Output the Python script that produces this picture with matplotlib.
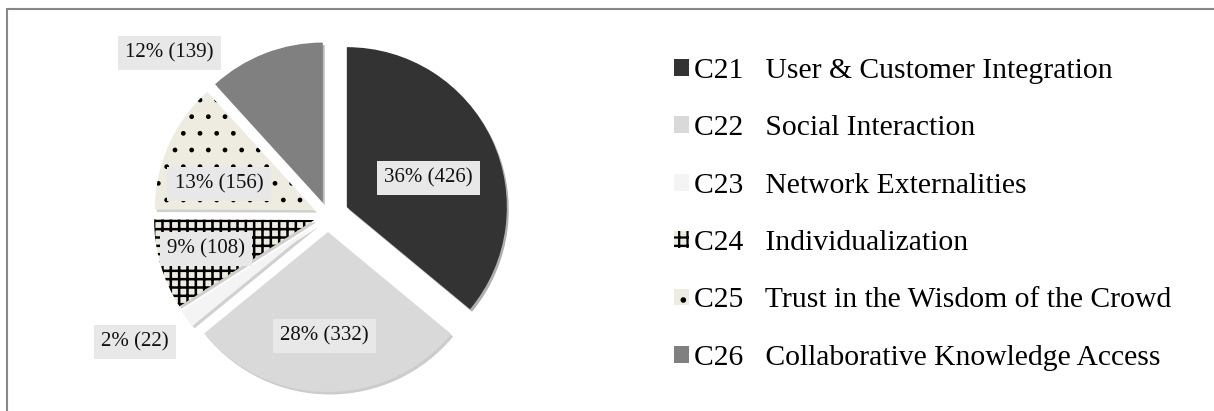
import numpy as np
import matplotlib
matplotlib.use("Agg")
import matplotlib.pyplot as plt
from matplotlib.patches import Rectangle

plt.rcParams['font.family'] = ['Liberation Serif', 'DejaVu Serif']
plt.rcParams['hatch.linewidth'] = 1.6

# Category counts
codes = ["C21", "C22", "C23", "C24", "C25", "C26"]
names = ["User & Customer Integration", "Social Interaction", "Network Externalities",
         "Individualization", "Trust in the Wisdom of the Crowd",
         "Collaborative Knowledge Access"]
counts = [426, 332, 22, 108, 156, 139]

# Styling per slice
colors = ["#333333", "#d9d9d9", "#f4f4f4", "#eeece1", "#eeece1", "#808080"]
hatches = [None, None, None, "++", ".", None]
hatch_lw = [None, None, None, 1.8, 1.0, None]
explode = [0.13, 0.10, 0.09, 0.09, 0.09, 0.09]   # fraction of the radius

# Label placement: distance (in radii) and angle shift from the slice middle
label_dist = [0.54, 0.65, 1.35, 0.70, 0.62, 1.34]
label_shift = [-5.5, -1.6, -3.0, -1.4, 8.8, 24.5]

W, H = 1214, 411
fig = plt.figure(figsize=(W / 100, H / 100), dpi=100)
ax = fig.add_axes([0, 0, 1, 1])

R = 160
center = (328, H - 216)
wedges, _ = ax.pie(counts, colors=colors, explode=[e * R for e in explode],
                   startangle=90, counterclock=False, radius=R, center=center,
                   wedgeprops=dict(linewidth=0, edgecolor="black"),
                   shadow=dict(ox=1.4, oy=-1.8, shade=0.5, alpha=0.35))
for w, h, lw in zip(wedges, hatches, hatch_lw):
    if h:
        w.set_hatch(h)
        if hasattr(w, "set_hatch_linewidth"):
            w.set_hatch_linewidth(lw)

ax.set_xlim(0, W)
ax.set_ylim(0, H)
ax.set_aspect("equal")
ax.axis("off")

# Data labels: percentage and count
total = sum(counts)
for w, n, d, s in zip(wedges, counts, label_dist, label_shift):
    mid = np.deg2rad((w.theta1 + w.theta2) / 2 + s)
    x = w.center[0] + d * w.r * np.cos(mid)
    y = w.center[1] + d * w.r * np.sin(mid)
    ax.text(x, y, f"{100 * n / total:.0f}% ({n})", ha="center", va="center",
            fontsize=15, color="#111111",
            bbox=dict(boxstyle="square,pad=0.35", facecolor="#e8e8e8", edgecolor="none"))

# Legend on the right
fig.legend(wedges, [f"{c}   {n}" for c, n in zip(codes, names)],
           loc="upper left", bbox_to_anchor=(674 / W, 1 - 58 / H),
           frameon=False, fontsize=21.3, handlelength=0.5, handleheight=0.5,
           handletextpad=0.17, labelspacing=1.06, borderpad=0, borderaxespad=0)

# Chart frame
fig.patches.append(Rectangle((7 / W, -0.1), 1.2, 1 - 9 / H + 0.1, transform=fig.transFigure,
                             fill=False, edgecolor="#878787", linewidth=1.5))

fig.savefig("out.png", dpi=100)
